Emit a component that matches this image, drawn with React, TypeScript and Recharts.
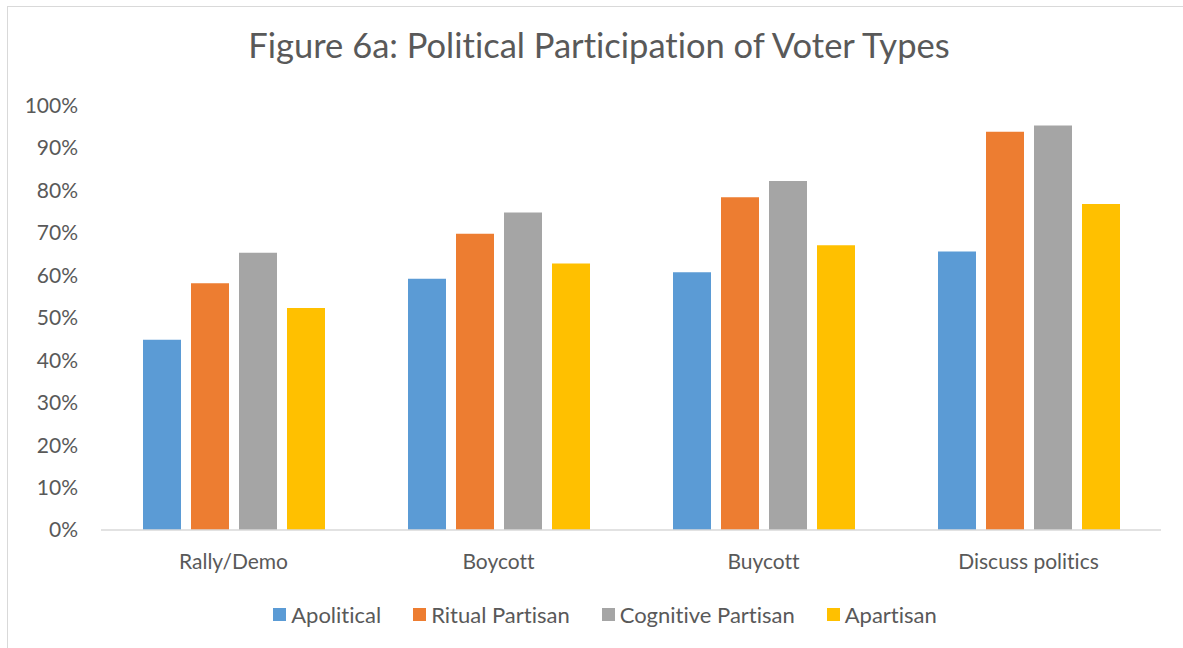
import React from 'react';
import { BarChart, Bar, XAxis, YAxis, Legend } from 'recharts';

// Activity categories along the x axis
const activities = ['Rally/Demo', 'Boycott', 'Buycott', 'Discuss politics'];

// Share of each voter type taking part in the activity (%)
const apolitical = [44.8, 59.2, 60.7, 65.6];
const ritualPartisan = [58.1, 69.8, 78.4, 93.8];
const cognitivePartisan = [65.3, 74.8, 82.2, 95.3];
const apartisan = [52.3, 62.8, 67.1, 76.8];

const yTicks = [0, 10, 20, 30, 40, 50, 60, 70, 80, 90, 100];

const seriesDefs = [
  { key: 'apolitical', name: 'Apolitical', color: '#5B9BD5', values: apolitical },
  { key: 'ritual', name: 'Ritual Partisan', color: '#ED7D31', values: ritualPartisan },
  { key: 'cognitive', name: 'Cognitive Partisan', color: '#A5A5A5', values: cognitivePartisan },
  { key: 'apartisan', name: 'Apartisan', color: '#FFC000', values: apartisan },
];

const data = activities.map((activity, i) => {
  const row: Record<string, string | number> = { activity };
  seriesDefs.forEach((s) => {
    row[s.key] = s.values[i];
  });
  return row;
});

const FONT = 'Lato, "Open Sans", sans-serif';
const TEXT = '#595959';

const LegendContent = () => (
  <div
    style={{
      display: 'flex',
      justifyContent: 'center',
      alignItems: 'center',
      height: 24,
      fontFamily: FONT,
      fontSize: 22,
      color: TEXT,
    }}
  >
    {seriesDefs.map((s, i) => (
      <div
        key={s.key}
        style={{ display: 'flex', alignItems: 'center', marginLeft: i === 0 ? 0 : 32 }}
      >
        <span
          style={{ display: 'inline-block', width: 13, height: 13, background: s.color, marginRight: 5 }}
        />
        <span>{s.name}</span>
      </div>
    ))}
  </div>
);

export default function App() {
  return (
    <div
      style={{
        position: 'absolute',
        left: 0,
        top: 0,
        width: 1183,
        height: 648,
        overflow: 'hidden',
        background: '#fff',
        fontVariantLigatures: 'none',
      }}
    >
      <div
        style={{
          position: 'absolute',
          left: 7,
          top: 6,
          width: 1200,
          height: 700,
          border: '1.5px solid #d9d9d9',
          boxSizing: 'border-box',
        }}
      />
      <div
        style={{
          position: 'absolute',
          left: 0,
          top: 21,
          width: 1198,
          textAlign: 'center',
          fontFamily: FONT,
          fontSize: 34.5,
          fontWeight: 400,
          color: TEXT,
          lineHeight: '48px',
        }}
      >
        Figure 6a: Political Participation of Voter Types
      </div>
      <div style={{ position: 'absolute', left: 0, top: 0 }}>
        <BarChart
          width={1183}
          height={648}
          data={data}
          margin={{ top: 105.5, right: 22, bottom: 22, left: 0 }}
          barGap={10}
          barSize={38}
        >
          <XAxis
            dataKey="activity"
            height={72}
            tickLine={false}
            tickSize={0}
            tickMargin={24}
            axisLine={{ stroke: '#d9d9d9', strokeWidth: 1.5 }}
            tick={{ fill: TEXT, fontSize: 21, fontFamily: FONT }}
            interval={0}
          />
          <YAxis
            width={101}
            domain={[0, 100]}
            ticks={yTicks}
            interval={0}
            axisLine={false}
            tickLine={false}
            tickSize={0}
            tickMargin={23}
            tickFormatter={(v: number) => `${v}%`}
            tick={{ fill: TEXT, fontSize: 21, fontFamily: FONT }}
          />
          <Legend
            verticalAlign="bottom"
            height={24}
            content={<LegendContent />}
            wrapperStyle={{ left: 0, width: 1210 }}
          />
          {seriesDefs.map((s) => (
            <Bar
              key={s.key}
              dataKey={s.key}
              name={s.name}
              fill={s.color}
              isAnimationActive={false}
            />
          ))}
        </BarChart>
      </div>
    </div>
  );
}
